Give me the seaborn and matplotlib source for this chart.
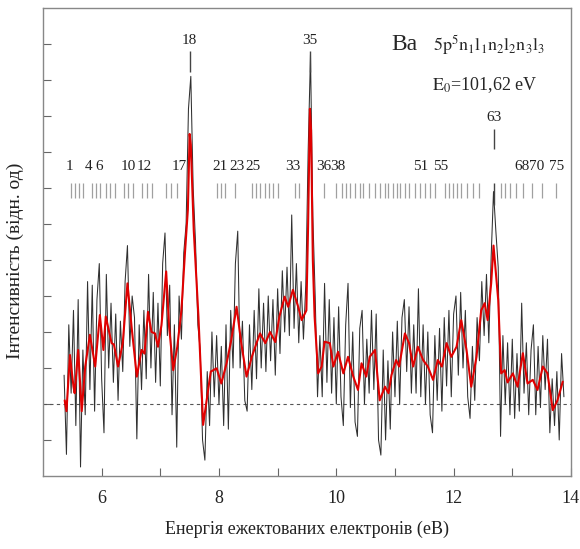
import numpy as np
import pandas as pd
import seaborn as sns
import matplotlib
matplotlib.use("Agg")
import matplotlib.pyplot as plt

# smoothed spectrum (red curve)
smooth_e = [5.37, 5.40, 5.46, 5.52, 5.54, 5.60, 5.66, 5.72, 5.80, 5.89,
            5.97, 6.03, 6.07, 6.17, 6.21, 6.28, 6.36, 6.44, 6.51, 6.60,
            6.68, 6.73, 6.79, 6.85, 6.91, 6.96, 7.02, 7.10, 7.15, 7.22,
            7.29, 7.36, 7.42, 7.47, 7.50, 7.52, 7.57, 7.65, 7.73, 7.79,
            7.86, 7.96, 8.04, 8.13, 8.21, 8.30, 8.38, 8.47, 8.56, 8.64,
            8.70, 8.79, 8.87, 8.96, 9.03, 9.12, 9.18, 9.26, 9.35, 9.41,
            9.49, 9.52, 9.55, 9.57, 9.60, 9.63, 9.69, 9.75, 9.80, 9.89,
            9.95, 10.03, 10.12, 10.20, 10.29, 10.37, 10.43, 10.51, 10.57, 10.66,
            10.74, 10.83, 10.89, 10.94, 11.02, 11.07, 11.17, 11.24, 11.31, 11.39,
            11.48, 11.56, 11.65, 11.73, 11.80, 11.88, 11.96, 12.05, 12.13, 12.22,
            12.30, 12.39, 12.47, 12.53, 12.58, 12.64, 12.68, 12.76, 12.81, 12.87,
            12.92, 13.01, 13.09, 13.18, 13.26, 13.35, 13.43, 13.52, 13.60, 13.69,
            13.77, 13.86]
smooth_i = [0.1, -0.2, 1.36, 0.48, 0.3, 1.5, -0.2, 1.04, 1.92, 1.04,
            2.47, 1.5, 2.43, 1.69, 1.65, 1.04, 1.69, 3.35, 2.15, 0.76,
            1.5, 1.4, 2.56, 2.0, 1.96, 1.59, 2.19, 3.68, 2.15, 0.94,
            1.59, 2.6, 4.19, 5.4, 7.5, 7.2, 4.83, 2.43, -0.58, 0.1,
            0.9, 0.99, 0.57, 1.13, 1.78, 2.7, 1.69, 0.76, 1.31, 1.69,
            1.96, 1.69, 2.0, 1.72, 2.43, 2.98, 2.7, 3.17, 2.7, 2.33,
            2.6, 5.0, 8.2, 7.6, 4.0, 2.43, 0.85, 1.04, 1.73, 1.69,
            1.04, 1.45, 0.85, 1.31, 0.76, 0.39, 1.13, 0.76, 1.31, 1.5,
            0.1, 0.48, 0.3, 0.8, 1.22, 1.04, 1.96, 1.69, 1.04, 1.59,
            1.22, 1.04, 0.67, 1.22, 1.04, 1.69, 1.31, 1.59, 2.33, 1.5,
            0.48, 1.31, 2.6, 2.8, 2.33, 3.35, 4.4, 2.89, 0.85, 0.94,
            0.6, 0.85, 0.48, 1.41, 0.57, 0.67, 0.39, 1.04, 0.85, -0.17,
            0.1, 0.62]

# raw counts, one value every 0.04 eV starting at 5.36 eV
raw_start = 5.36
raw_step = 0.04
raw_i = [0.8, -1.4, 2.2, 0.3, 2.6, -0.6, 2.9, -1.75, 1.5, -0.3,
         3.4, 0.4, 3.3, -0.2, 2.9, 3.9, 0.7, -0.8, 3.6, 1.0,
         2.8, 0.6, 2.5, 0.1, 2.3, 0.9, 3.4, 4.4, 1.6, 3.0,
         2.4, -0.97, 2.2, 0.4, 2.6, 0.7, 3.6, 1.0, 3.1, 0.6,
         2.8, 0.5, 3.9, 4.75, 1.9, 3.3, -0.3, 2.2, -1.2, 3.0,
         1.8, 4.2, 5.0, 8.2, 9.1, 6.0, 4.5, 2.2, 1.5, -1.0,
         -1.56, 0.9, -0.6, 2.0, 0.2, 1.9, 0.0, 1.6, -0.6, 2.2,
         -0.7, 2.6, 1.0, 3.9, 4.8, 1.0, 2.3, 0.1, -0.2, 2.2,
         0.4, 2.6, 0.7, 3.2, 1.0, 2.8, 0.9, 3.0, 1.2, 2.9,
         0.8, 3.2, 1.4, 3.7, 2.0, 3.8, 1.9, 5.25, 2.1, 3.9,
         1.7, 3.4, 1.8, 3.3, 7.0, 9.7, 5.2, 3.0, 0.2, 1.9,
         0.2, 3.35, 0.6, 2.9, 0.3, 2.4, 0.0, 2.7, 0.2, -0.6,
         2.2, 3.35, -0.1, 2.0, -0.5, -0.9, 2.1, 2.6, 0.0, 1.8,
         0.3, 2.6, 0.4, 2.5, -1.0, -1.42, 1.5, -1.0, 1.2, -0.7,
         2.0, 0.2, 2.3, 0.0, 2.4, 2.9, 0.9, 2.7, 0.3, 2.2,
         0.3, 3.2, 0.2, 2.2, 0.0, 2.0, -0.3, -0.8, 1.9, 0.1,
         2.1, -0.2, 2.4, 0.5, 2.6, 0.2, 2.5, 3.0, 0.8, 3.1,
         1.0, 2.6, 0.2, -0.4, 1.6, 0.1, 2.4, 1.2, 3.4, 1.9,
         3.6, 1.7, 4.1, 5.9, 4.8, 3.8, -0.9, 1.9, 0.0, 1.7,
         -0.3, 1.8, -0.4, 1.4, -0.2, 2.8, 0.3, 1.7, -0.3, 1.5,
         2.2, -0.3, 1.6, -0.1, 1.9, 0.4, 1.8, -0.8, 0.7, -0.6,
         0.9, -1.0, 1.4, 0.2]

# energies (eV) of the 5p^5 n1l1 n2l2 n3l3 levels marked above the spectrum
level_e = [5.48, 5.55, 5.61, 5.69, 5.83, 5.91, 5.98, 6.07, 6.14, 6.23,
           6.38, 6.45, 6.54, 6.68, 6.77, 6.85, 7.10, 7.19, 7.28,
           7.96, 8.03, 8.10, 8.27, 8.56, 8.63, 8.70, 8.78, 8.85, 8.92,
           9.01, 9.29, 9.36, 9.79, 10.00, 10.09, 10.16, 10.24, 10.32, 10.40,
           10.46, 10.56, 10.66, 10.74, 10.83, 10.88, 10.96, 11.03, 11.09, 11.17,
           11.24, 11.34, 11.42, 11.51, 11.59, 11.68, 11.85, 11.92, 11.99, 12.06,
           12.13, 12.22, 12.33, 12.44, 12.81, 12.88, 12.96, 13.07, 13.18, 13.34,
           13.50, 13.75]
level_labels = ["1", "4", "6", "10", "12", "17", "21", "23", "25", "33",
                "36", "38", "51", "55", "68", "70", "75"]
level_label_e = [5.46, 5.77, 5.96, 6.45, 6.72, 7.32, 8.02, 8.30, 8.58, 9.26,
                 9.78, 10.03, 11.44, 11.78, 13.16, 13.42, 13.75]

# strongest lines, labelled higher up
peak_labels = ["18", "35", "63"]
peak_e = [7.50, 9.55, 12.69]
peak_y = [10.1, 10.1, 7.95]

sns.set_theme(style="white")
plt.rcParams["font.family"] = ["Liberation Serif", "DejaVu Serif"]
plt.rcParams["mathtext.fontset"] = "stix"

raw = pd.DataFrame({"E": raw_start + raw_step * np.arange(len(raw_i)), "I": raw_i})
smooth = pd.DataFrame({"E": smooth_e, "I": smooth_i})

fig = plt.figure(figsize=(5.8, 5.49), dpi=100)
ax = fig.add_axes([0.0741, 0.1330, 0.9103, 0.8525])

ax.axhline(0, color="#555555", lw=0.8, ls=(0, (3, 3)), zorder=1)
sns.lineplot(data=raw, x="E", y="I", ax=ax, color="#303030", lw=0.75,
             estimator=None, zorder=2)
sns.lineplot(data=smooth, x="E", y="I", ax=ax, color="#e00000", lw=1.5,
             estimator=None, zorder=3)

# level markers
ax.vlines(level_e, 5.72, 6.14, color="#a0a0a0", lw=0.9, zorder=1)
for lab, e in zip(level_labels, level_label_e):
    ax.text(e, 6.6, lab, ha="center", va="center", fontsize=11, color="#222222")
for lab, e, y in zip(peak_labels, peak_e, peak_y):
    ax.text(e, y, lab, ha="center", va="center", fontsize=11, color="#222222")
    ax.vlines(e, y - 0.88, y - 0.3, color="#444444", lw=1.0)
ax.vlines(peak_e[2], 5.53, 6.14, color="#444444", lw=1.0)

ax.text(0.660, 0.921, "Ba", transform=ax.transAxes, fontsize=17,
        ha="left", va="center")
ax.text(0.738, 0.921, r"$\mathrm{5p^5n_1l_1n_2l_2n_3l_3}$", transform=ax.transAxes,
        fontsize=13, ha="left", va="center")
ax.text(0.737, 0.835, r"$\mathrm{E_0}$=101,62 eV", transform=ax.transAxes,
        fontsize=13, ha="left", va="center")

ax.set_xlim(5, 14)
ax.set_ylim(-2, 11)
ax.set_xticks([6, 8, 10, 12, 14])
ax.set_xticks([7, 9, 11, 13], minor=True)
ax.set_yticks(np.arange(-1, 11, 1))
ax.set_yticklabels([])
ax.tick_params(axis="both", which="both", direction="in", colors="#666666",
               labelcolor="#222222", labelsize=13, length=6, width=0.8,
               bottom=True, left=True)
ax.tick_params(axis="x", pad=10)
for s in ax.spines.values():
    s.set_color("#888888")
    s.set_linewidth(1.0)

ax.set_xlabel("Енергія ежектованих електронів (еВ)", fontsize=13, labelpad=10,
              color="#222222")
ax.set_ylabel("Інтенсивність (відн. од)", fontsize=14, color="#222222")
ax.yaxis.set_label_coords(-0.035, 0.46)

fig.savefig("out.png", dpi=100)
